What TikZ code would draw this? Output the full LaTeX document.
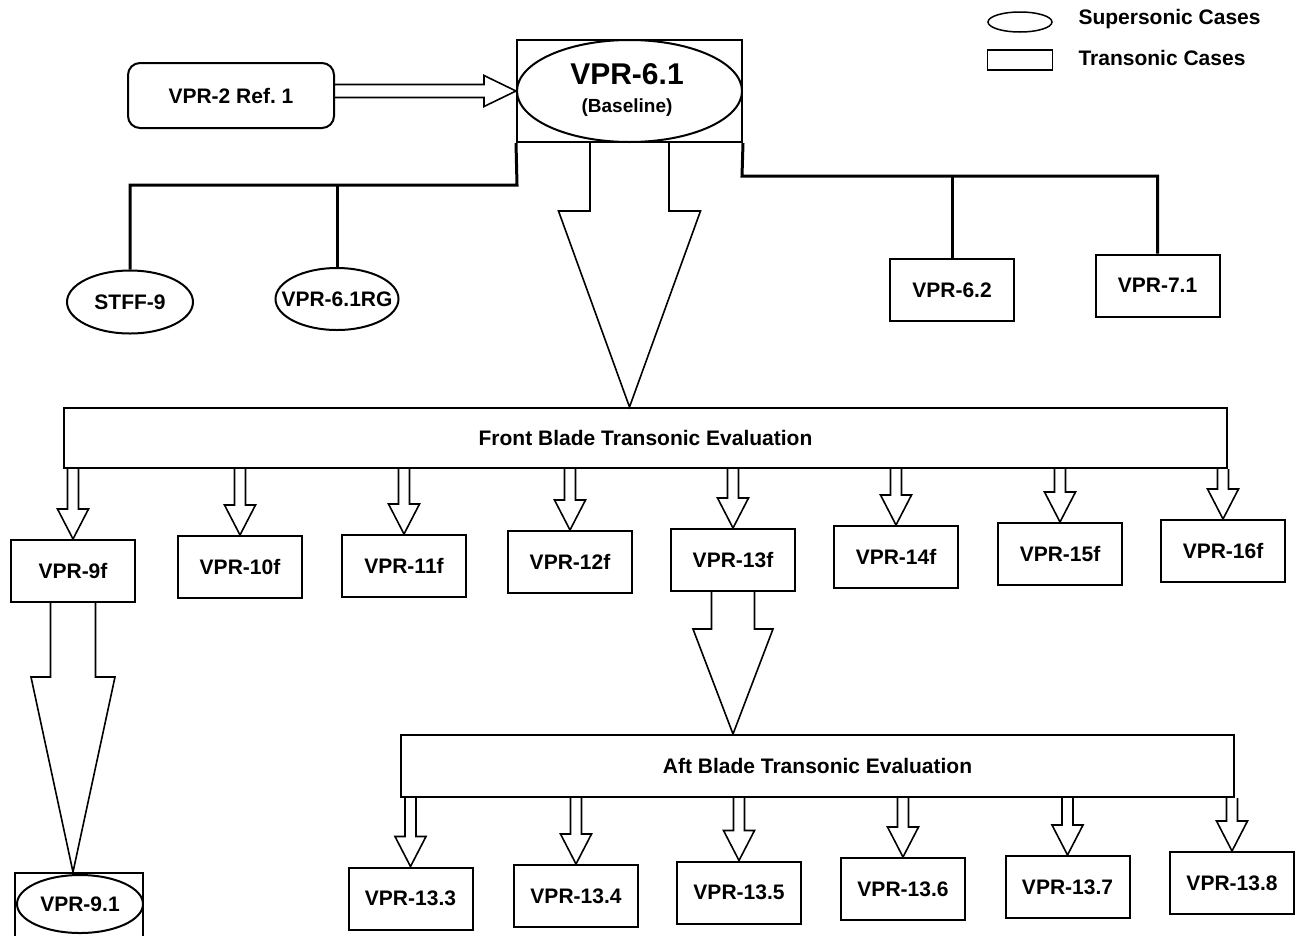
\documentclass[tikz,border=0pt]{standalone}
\usepackage{fontspec}
\setmainfont{Liberation Sans}
\usetikzlibrary{shapes.geometric,calc}
\tikzset{
  lbl/.style={font=\bfseries\fontsize{21}{24}\selectfont},
  tbox/.style={draw, line width=2pt, rectangle, minimum width=124pt, minimum height=62pt, inner sep=0pt, lbl},
  sbox/.style={draw, line width=2pt, ellipse, inner sep=0pt, lbl},
  frame/.style={draw, line width=2pt, rectangle, inner sep=0pt},
  tree/.style={line width=3pt, line join=miter},
  harr/.style={draw, line width=1.6pt, line join=miter},
}
% hollow downward arrow: x-node, start y-node, end node, shaft half width, head half width, head length
\newcommand\hollowdown[6]{%
  \draw[harr] let \p1=(#1), \p2=(#2), \p3=(#3) in
    (\x1-#4pt,\y2) -- (\x1-#4pt,\y3+#6pt) -- (\x1-#5pt,\y3+#6pt) -- (\x1,\y3)
    -- (\x1+#5pt,\y3+#6pt) -- (\x1+#4pt,\y3+#6pt) -- (\x1+#4pt,\y2);}
\begin{document}
\begin{tikzpicture}[x=1pt,y=-1pt]
\useasboundingbox (0,0) rectangle (1297,935);

% legend
\node[sbox, line width=1.5pt, minimum width=64pt, minimum height=20pt] (legE) at (1020,22) {};
\node[lbl, anchor=west] (legEt) at (1075,19) {Supersonic Cases};
\node[frame, line width=1.5pt, minimum width=65pt, minimum height=20pt] (legR) at (1020,60) {};
\node[lbl, anchor=west] (legRt) at (1075,58) {Transonic Cases};

% top
\node[tbox, rounded corners=12pt, minimum width=206pt, minimum height=65pt] (v2) at (231,95.5) {VPR-2 Ref.\ 1};
\node[frame, minimum width=225pt, minimum height=102pt] (base) at (629.5,91) {};
\node[frame, ellipse, minimum width=225pt, minimum height=102pt] (baseE) at (629.5,91) {};
\node[font=\bfseries\fontsize{30}{34}\selectfont] (baseT) at (627,74) {VPR-6.1};
\node[font=\bfseries\fontsize{19}{22}\selectfont] (baseS) at (627,108) {(Baseline)};

\draw[harr] let \p1=(v2.east), \p2=(baseE.west) in
  (\x1,\y2+6.5pt) -- (\x2-32pt,\y2+6.5pt) -- (\x2-32pt,\y2+15.5pt) -- (\x2,\y2)
  -- (\x2-32pt,\y2-15.5pt) -- (\x2-32pt,\y2-6.5pt) -- (\x1,\y2-6.5pt);

\node[sbox, minimum width=126pt, minimum height=63pt] (stff) at (130,302) {STFF-9};
\node[sbox, inner xsep=-17pt, minimum width=123pt, minimum height=62pt] (rg) at (337,299) {VPR-6.1RG};
\node[tbox] (v62) at (952,290) {VPR-6.2};
\node[tbox] (v71) at (1157.5,285.5) {VPR-7.1};

\coordinate (jl) at (517,185);
\coordinate (jr) at (742,176);
\draw[tree] (base.south west) -- (jl) -| (stff.north);
\draw[tree] (rg.north) -- (rg.north |- jl);
\draw[tree] (base.south east) -- (jr) -| (v71.north);
\draw[tree] (v62.north) -- (v62.north |- jr);

% front blade
\node[frame, minimum width=1163pt, minimum height=60pt, lbl] (front) at (645.5,438) {Front Blade Transonic Evaluation};
\hollowdown{base.south}{base.south}{front.north}{39.5}{71}{196}

\node[tbox] (f9)  at (73,571)   {VPR-9f};
\node[tbox] (f10) at (240,567)  {VPR-10f};
\node[tbox] (f11) at (404,566)  {VPR-11f};
\node[tbox] (f12) at (570,562)  {VPR-12f};
\node[tbox] (f13) at (733,560)  {VPR-13f};
\node[tbox] (f14) at (896,557)  {VPR-14f};
\node[tbox] (f15) at (1060,554) {VPR-15f};
\node[tbox] (f16) at (1223,551) {VPR-16f};
\hollowdown{f9.north}{front.south}{f9.north}{5.5}{15.5}{30}
\hollowdown{f10.north}{front.south}{f10.north}{5.5}{15.5}{30}
\hollowdown{f11.north}{front.south}{f11.north}{5.5}{15.5}{30}
\hollowdown{f12.north}{front.south}{f12.north}{5.5}{15.5}{30}
\hollowdown{f13.north}{front.south}{f13.north}{5.5}{15.5}{30}
\hollowdown{f14.north}{front.south}{f14.north}{5.5}{15.5}{30}
\hollowdown{f15.north}{front.south}{f15.north}{5.5}{15.5}{30}
\hollowdown{f16.north}{front.south}{f16.north}{5.5}{15.5}{30}

% VPR-9.1
\node[frame, minimum width=128pt, minimum height=64pt] (n91box) at (79,905) {};
\node[sbox, minimum width=126pt, minimum height=58pt] (n91) at (80,904) {VPR-9.1};
\hollowdown{f9.south}{f9.south}{n91box.north}{22.5}{42}{195}

% aft blade
\node[frame, minimum width=833pt, minimum height=62pt, lbl] (aft) at (817.5,766) {Aft Blade Transonic Evaluation};
\hollowdown{f13.south}{f13.south}{aft.north}{21.5}{40}{105}

\node[tbox] (a3) at (410.5,898.5) {VPR-13.3};
\node[tbox] (a4) at (576,896)     {VPR-13.4};
\node[tbox] (a5) at (739,892.5)   {VPR-13.5};
\node[tbox] (a6) at (903,889)     {VPR-13.6};
\node[tbox] (a7) at (1067.5,887)  {VPR-13.7};
\node[tbox] (a8) at (1232,883)    {VPR-13.8};
\hollowdown{a3.north}{aft.south}{a3.north}{5.5}{15.5}{30}
\hollowdown{a4.north}{aft.south}{a4.north}{5.5}{15.5}{30}
\hollowdown{a5.north}{aft.south}{a5.north}{5.5}{15.5}{30}
\hollowdown{a6.north}{aft.south}{a6.north}{5.5}{15.5}{30}
\hollowdown{a7.north}{aft.south}{a7.north}{5.5}{15.5}{30}
\hollowdown{a8.north}{aft.south}{a8.north}{5.5}{15.5}{30}
\end{tikzpicture}
\end{document}
